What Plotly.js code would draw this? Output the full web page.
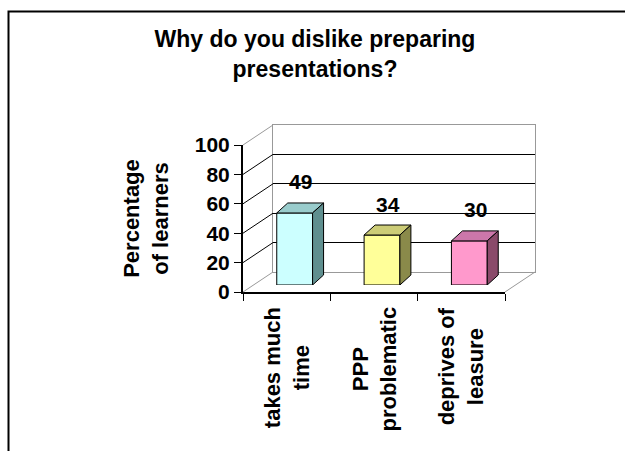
<!DOCTYPE html>
<html><head><meta charset="utf-8">
<script src="https://cdn.plot.ly/plotly-3.0.1.min.js"></script>
<style>html,body{margin:0;padding:0;background:#fff}#chart{width:625px;height:451px}</style>
</head><body><div id="chart"></div>
<script>
// ---- data ----
const titleText = 'Why do you dislike preparing<br>presentations?';
const yTitleText = 'Percentage<br>of learners';
const categories = ['takes much<br>time', 'PPP<br>problematic', 'deprives of<br>leasure'];
const values = [49, 34, 30];
const yTickValues = [0, 20, 40, 60, 80, 100];

// ---- styles ----
const frontColors = ['#CCFFFF', '#FFFF99', '#FF99CC'];
const topColors = ['#99CCCC', '#CCCC77', '#CC77AA'];
const sideColors = ['#5F8F8F', '#8A8A4A', '#8A4A6A'];
const FONT = 'Liberation Sans, Arial, sans-serif';

// ---- geometry (page pixels) ----
const W = 625, H = 451;
const front = {left: 243, right: 505, bottom: 292, top: 145};
const wallDepth = {dx: 30, dy: -20};
const barShift = {dx: 8, dy: -7};
const barDepth = {dx: 11, dy: -10};
const barWidth = 0.41;

const px = x => x / W, py = y => 1 - y / H;
const pxPerCat = (front.right - front.left) / categories.length;
const pxPerUnit = (front.bottom - front.top) / 100;
const idx = categories.map((c, i) => i);
const ddx = barDepth.dx / pxPerCat, ddy = -barDepth.dy / pxPerUnit;

const traces = [];
traces.push({x: categories, y: values, type: 'scatter', mode: 'none', xaxis: 'x', yaxis: 'y', hoverinfo: 'skip', showlegend: false});
traces.push({x: idx, y: values, type: 'scatter', mode: 'none', xaxis: 'x2', yaxis: 'y2', hoverinfo: 'skip', showlegend: false});
traces.push({x: idx, y: values, type: 'bar', width: barWidth, xaxis: 'x3', yaxis: 'y3',
  marker: {color: frontColors, line: {color: '#000', width: 1}}, showlegend: false, hoverinfo: 'skip'});
values.forEach((v, i) => {
  const l = i - barWidth / 2, r = i + barWidth / 2;
  traces.push({type: 'scatter', mode: 'lines', fill: 'toself', fillcolor: topColors[i], line: {color: '#000', width: 1},
    x: [l, r, r + ddx, l + ddx, l], y: [v, v, v + ddy, v + ddy, v], xaxis: 'x3', yaxis: 'y3', showlegend: false, hoverinfo: 'skip'});
  traces.push({type: 'scatter', mode: 'lines', fill: 'toself', fillcolor: sideColors[i], line: {color: '#000', width: 1},
    x: [r, r + ddx, r + ddx, r, r], y: [0, ddy, v + ddy, v, 0], xaxis: 'x3', yaxis: 'y3', showlegend: false, hoverinfo: 'skip'});
});

const frontY = v => front.bottom - v * pxPerUnit;
const shapes = [];
yTickValues.forEach(v => {
  const edge = (v === yTickValues[0] || v === yTickValues[yTickValues.length - 1]);
  shapes.push({type: 'line', xref: 'paper', yref: 'paper',
    x0: px(front.left), y0: py(frontY(v)), x1: px(front.left + wallDepth.dx), y1: py(frontY(v) + wallDepth.dy),
    line: {color: edge ? '#999' : '#000', width: 1}});
});
shapes.push({type: 'line', xref: 'paper', yref: 'paper',
  x0: px(front.right), y0: py(front.bottom), x1: px(front.right + wallDepth.dx), y1: py(front.bottom + wallDepth.dy),
  line: {color: '#999', width: 1}});
shapes.push({type: 'rect', xref: 'paper', yref: 'paper', x0: px(8.5), y0: py(11.5), x1: 1.2, y1: -0.2,
  line: {color: '#000', width: 2}, fillcolor: 'rgba(0,0,0,0)'});

const annotations = [];
categories.forEach(c => annotations.push({xref: 'x', yref: 'paper', x: c, y: py(305), text: c, textangle: -90,
  showarrow: false, xanchor: 'center', yanchor: 'top', align: 'center',
  font: {family: FONT, size: 22, color: '#000', weight: 700}}));
values.forEach((v, i) => annotations.push({xref: 'x3', yref: 'y3', x: i + 0.07, y: v, yshift: 31, text: String(v),
  showarrow: false, xanchor: 'center', yanchor: 'middle',
  font: {family: FONT, size: 21, color: '#000', weight: 700}}));

const layout = {
  width: W, height: H, margin: {l: 0, r: 0, t: 0, b: 0}, paper_bgcolor: '#fff', plot_bgcolor: 'rgba(0,0,0,0)',
  showlegend: false,
  title: {text: titleText, x: px(315), xanchor: 'center', xref: 'paper', y: py(47), yanchor: 'top', yref: 'paper',
    font: {family: FONT, size: 23, color: '#000', weight: 700}},
  xaxis: {domain: [px(front.left), px(front.right)], anchor: 'y', type: 'category', categoryarray: categories,
    range: [-0.5, categories.length - 0.5], tickson: 'boundaries', ticks: 'outside', ticklen: 7, tickcolor: '#000',
    tickwidth: 1, showline: true, linecolor: '#000', linewidth: 2, showgrid: false, showticklabels: false, zeroline: false},
  yaxis: {domain: [py(front.bottom), py(front.top)], anchor: 'x', range: [0, 100], tickvals: yTickValues,
    ticks: 'outside', ticklen: 7, tickcolor: '#000', tickwidth: 1, showline: true, linecolor: '#000', linewidth: 2,
    showgrid: false, zeroline: false, tickfont: {family: FONT, size: 21, color: '#000', weight: 700},
    title: {text: yTitleText, standoff: 20, font: {family: FONT, size: 22, color: '#000', weight: 700}}},
  xaxis2: {domain: [px(front.left + wallDepth.dx), px(front.right + wallDepth.dx)], anchor: 'y2',
    range: [-0.5, categories.length - 0.5], showline: true, mirror: true, linecolor: '#999', linewidth: 1,
    showgrid: false, showticklabels: false, ticks: '', zeroline: false},
  yaxis2: {domain: [py(front.bottom + wallDepth.dy), py(front.top + wallDepth.dy)], anchor: 'x2', range: [0, 100],
    tickvals: yTickValues.slice(1, -1), showgrid: true, gridcolor: '#000', gridwidth: 1, showline: true, mirror: true,
    linecolor: '#999', linewidth: 1, showticklabels: false, ticks: '', zeroline: false},
  xaxis3: {domain: [px(front.left + barShift.dx), px(front.right + barShift.dx)], anchor: 'y3',
    range: [-0.5, categories.length - 0.5], visible: false},
  yaxis3: {domain: [py(front.bottom + barShift.dy), py(front.top + barShift.dy)], anchor: 'x3', range: [0, 100], visible: false},
  shapes: shapes, annotations: annotations
};
Plotly.newPlot('chart', traces, layout, {displayModeBar: false, staticPlot: true});
</script></body></html>
